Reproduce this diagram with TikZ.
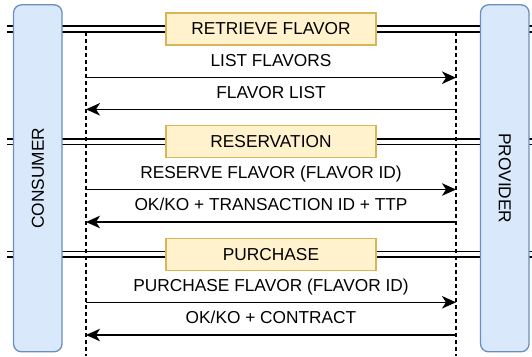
\documentclass[tikz,border=0pt]{standalone}
\usepackage{fontspec}
\setmainfont{Liberation Sans}
\usetikzlibrary{arrows.meta}

\definecolor{actfill}{HTML}{DAE8FC}
\definecolor{actline}{HTML}{6C8EBF}
\definecolor{grpfill}{HTML}{FFF2CC}
\definecolor{grpline}{HTML}{D6B656}

\begin{document}
\begin{tikzpicture}[x=1pt,y=-1pt,
  actor/.style={draw=actline,fill=actfill,rounded corners=8pt,line width=1.3pt,
    minimum width=347pt,minimum height=48.5pt,inner sep=0pt,font=\fontsize{17.3}{20}\selectfont},
  phase/.style={draw=grpline,fill=grpfill,line width=1.3pt,minimum width=210pt,
    minimum height=32pt,inner sep=0pt,font=\fontsize{17.3}{20}\selectfont},
  sep/.style={draw=black,line width=1.4pt,double=white,double distance=4.4pt},
  life/.style={line width=1.3pt,dash pattern=on 4pt off 3pt},
  msg/.style={line width=1.5pt,-{Stealth[length=14pt,width=12.5pt,inset=4pt]}},
  lbl/.style={font=\fontsize{17.3}{20}\selectfont,inner sep=0pt,text depth=0pt,above=10.5pt}]
  \useasboundingbox (0,0) rectangle (532,356);

  % separators between the phases
  \coordinate (S1w) at (7,29);    \coordinate (S1e) at (532,29);
  \coordinate (S2w) at (7,141.7); \coordinate (S2e) at (532,141.7);
  \coordinate (S3w) at (7,254.2); \coordinate (S3e) at (532,254.2);
  \draw[sep] (S1w) -- (S1e);
  \draw[sep] (S2w) -- (S2e);
  \draw[sep] (S3w) -- (S3e);

  % actors
  \node[actor,rotate=90] (CONS) at (37.8,178.3) {CONSUMER};
  \node[actor,rotate=-90] (PROV) at (504.8,178.3) {PROVIDER};

  % lifelines
  \coordinate (C0) at (86,32);  \coordinate (Cend) at (86,356);
  \coordinate (P0) at (456,32); \coordinate (Pend) at (456,356);
  \draw[life] (C0) -- (Cend);
  \draw[life] (P0) -- (Pend);

  % phases
  \node[phase] (RETR) at (271,29) {RETRIEVE FLAVOR};
  \node[phase] (RESV) at (271,141.8) {RESERVATION};
  \node[phase] (PURC) at (271,254.4) {PURCHASE};

  % messages
  \coordinate (C1) at (86,77.7);  \coordinate (P1) at (456,77.7);
  \coordinate (C2) at (86,109.3); \coordinate (P2) at (456,109.3);
  \coordinate (C3) at (86,189.5); \coordinate (P3) at (456,189.5);
  \coordinate (C4) at (86,222);   \coordinate (P4) at (456,222);
  \coordinate (C5) at (86,302.3); \coordinate (P5) at (456,302.3);
  \coordinate (C6) at (86,335);   \coordinate (P6) at (456,335);
  \draw[msg] (C1) -- (P1) node[midway,lbl] {LIST FLAVORS};
  \draw[msg] (P2) -- (C2) node[midway,lbl] {FLAVOR LIST};
  \draw[msg] (C3) -- (P3) node[midway,lbl] {RESERVE FLAVOR (FLAVOR ID)};
  \draw[msg] (P4) -- (C4) node[midway,lbl] {OK/KO + TRANSACTION ID + TTP};
  \draw[msg] (C5) -- (P5) node[midway,lbl] {PURCHASE FLAVOR (FLAVOR ID)};
  \draw[msg] (P6) -- (C6) node[midway,lbl] {OK/KO + CONTRACT};
\end{tikzpicture}
\end{document}
